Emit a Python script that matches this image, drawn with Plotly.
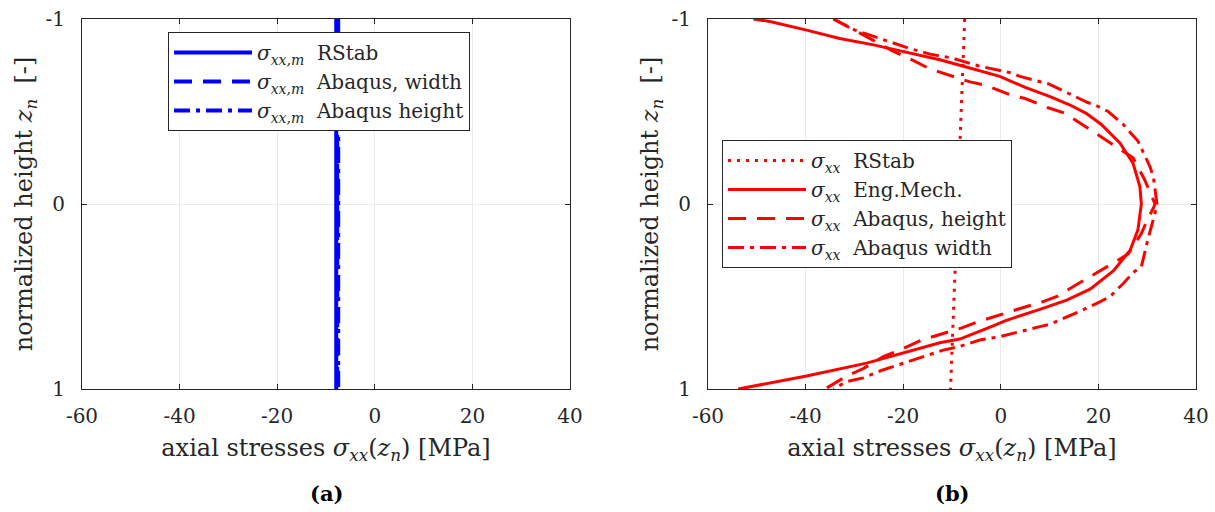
import plotly.graph_objects as go

# ---------------- data ----------------
# (a) mean axial stresses (vertical lines), z_n from -1 to 1
z_ends = [-1.0, 1.0]
a_rstab = [-7.9, -7.9]
a_abq_width = [-7.7, -7.7]
a_abq_height = [-7.5, -7.5]

# (b) axial stress distributions
rstab_x = [-7.4, -10.3]
rstab_z = [-1.0, 1.0]

eng_x = [-50.7, -47.3, -39.8, -33.0, -26.1, -19.3, -12.5, -8.4, -0.2, 5.0, 10.1, 14.2, 17.5,
         20.6, 24.4, 27.1, 28.5, 28.8, 28.1, 26.5, 23.1, 18.3, 13.5, 8.0, 1.0, -2.2, -8.4,
         -12.5, -20.7, -27.5, -39.8, -53.8]
eng_z = [-1.0, -0.986, -0.94, -0.895, -0.86, -0.82, -0.78, -0.75, -0.69, -0.63, -0.58, -0.535,
         -0.49, -0.43, -0.33, -0.22, -0.094, 0.0, 0.14, 0.25, 0.36, 0.46, 0.52, 0.57, 0.63,
         0.665, 0.73, 0.75, 0.81, 0.86, 0.93, 1.0]

abh_x = [-34.3, -29.9, -26.5, -22.4, -19.0, -14.5, -8.4, -6.3, -2.9, 1.9, 5.0, 9.7, 13.2, 17.3,
         20.3, 24.4, 27.1, 29.5, 30.9, 31.6, 31.3, 30.2, 28.8, 26.1, 23.0, 19.0, 15.9, 11.5,
         8.4, 3.3, 0.2, -4.6, -8.0, -12.8, -16.2, -20.7, -24.1, -28.2, -31.6, -36.0]
abh_z = [-1.0, -0.94, -0.89, -0.83, -0.79, -0.73, -0.68, -0.66, -0.64, -0.59, -0.57, -0.52,
         -0.49, -0.42, -0.37, -0.30, -0.25, -0.13, -0.04, 0.0, 0.02, 0.076, 0.16, 0.27, 0.32,
         0.38, 0.43, 0.50, 0.53, 0.57, 0.595, 0.636, 0.67, 0.71, 0.735, 0.79, 0.825, 0.89,
         0.93, 1.0]

abw_x = [-34.3, -29.9, -26.5, -23.1, -18.6, -14.5, -10.1, -6.3, -4.3, 1.9, 3.9, 9.7, 12.1,
         17.7, 19.7, 22.0, 25.1, 26.5, 28.1, 29.9, 30.6, 31.3, 32.0, 31.5, 30.2, 28.8, 27.1,
         25.1, 22.4, 20.2, 18.3, 16.2, 12.1, 10.1, 8.0, 3.9, -0.2, -4.3, -8.4, -11.8, -15.9,
         -20.0, -24.5, -28.2, -31.6, -34.3]
abw_z = [-1.0, -0.94, -0.91, -0.88, -0.84, -0.81, -0.79, -0.76, -0.745, -0.71, -0.69, -0.65,
         -0.62, -0.55, -0.53, -0.50, -0.43, -0.39, -0.34, -0.24, -0.20, -0.14, 0.0, 0.06,
         0.185, 0.34, 0.37, 0.43, 0.50, 0.53, 0.555, 0.58, 0.627, 0.65, 0.663, 0.69, 0.717,
         0.735, 0.77, 0.79, 0.825, 0.86, 0.90, 0.94, 0.96, 1.0]

x_ticks = [-60, -40, -20, 0, 20, 40]
x_tick_labels = ["-60", "-40", "-20", "0", "20", "40"]
y_ticks = [-1, 0, 1]
y_tick_labels = ["-1", "0", "1"]

# ---------------- style ----------------
W, H = 1215, 512
FONT = "DejaVu Serif"
AX = "#262626"
BLUE = "#0000ff"
RED = "#ff0000"
DASH = "18px,11px"
DASHDOT = "16px,6px,4px,6px"
DOT = "3px,6px"

fig = go.Figure()

def add(x, y, name, color, dash, width, xa, ya, legend, group):
    fig.add_trace(go.Scatter(
        x=x, y=y, mode="lines", name=name,
        line=dict(color=color, dash=dash, width=width),
        xaxis=xa, yaxis=ya, legend=legend, legendgroup=group,
    ))

s_m = "<i>σ<sub>xx,m</sub></i>"
s = "<i>σ<sub>xx</sub></i>"
add(a_rstab, z_ends, f"{s_m}  RStab", BLUE, "solid", 4, "x", "y", "legend", "a1")
add(a_abq_width, z_ends, f"{s_m}  Abaqus, width", BLUE, DASH, 4, "x", "y", "legend", "a2")
add(a_abq_height, z_ends, f"{s_m}  Abaqus height", BLUE, DASHDOT, 4, "x", "y", "legend", "a3")

add(rstab_x, rstab_z, f"{s}  RStab", RED, DOT, 3, "x2", "y2", "legend2", "b1")
add(eng_x, eng_z, f"{s}  Eng.Mech.", RED, "solid", 3, "x2", "y2", "legend2", "b2")
add(abh_x, abh_z, f"{s}  Abaqus, height", RED, DASH, 3, "x2", "y2", "legend2", "b3")
add(abw_x, abw_z, f"{s}  Abaqus width", RED, DASHDOT, 3, "x2", "y2", "legend2", "b4")

y_dom = [1 - 389 / H, 1 - 19 / H]
xdom1 = [82 / W, 570 / W]
xdom2 = [708 / W, 1196 / W]

def xaxis(dom, anchor):
    return dict(
        domain=dom, anchor=anchor, range=[-60, 40], tickvals=x_ticks, ticktext=x_tick_labels,
        showgrid=True, gridcolor="#ebebeb", gridwidth=1, zeroline=False,
        showline=True, linecolor=AX, linewidth=1, mirror="ticks",
        ticks="inside", ticklen=5, tickcolor=AX, ticklabelstandoff=9, automargin=False,
        tickfont=dict(family=FONT, size=20, color=AX),
        title=dict(text="axial stresses <i>σ<sub>xx</sub></i>(<i>z<sub>n</sub></i>) [MPa]",
                   font=dict(family=FONT, size=24, color=AX), standoff=12),
    )

def yaxis(anchor):
    return dict(
        domain=y_dom, anchor=anchor, range=[1, -1], tickvals=y_ticks, ticktext=y_tick_labels,
        showgrid=True, gridcolor="#ebebeb", gridwidth=1, zeroline=False,
        showline=True, linecolor=AX, linewidth=1, mirror="ticks",
        ticks="inside", ticklen=5, tickcolor=AX, ticklabelstandoff=12, automargin=False,
        tickfont=dict(family=FONT, size=20, color=AX),
        title=dict(text="normalized height <i>z<sub>n</sub></i>  [-]",
                   font=dict(family=FONT, size=24, color=AX), standoff=6),
    )

legend_common = dict(
    bgcolor="white", bordercolor=AX, borderwidth=1,
    font=dict(family=FONT, size=20, color=AX),
    xanchor="left", yanchor="top", tracegroupgap=0, traceorder="grouped",
    itemwidth=78,
)

fig.update_layout(
    width=W, height=H, margin=dict(l=0, r=0, t=0, b=0, autoexpand=False),
    paper_bgcolor="white", plot_bgcolor="white",
    xaxis=xaxis(xdom1, "y"), yaxis=yaxis("x"),
    xaxis2=xaxis(xdom2, "y2"), yaxis2=yaxis("x2"),
    legend=dict(x=168 / W, y=1 - 32 / H, **legend_common),
    legend2=dict(x=722 / W, y=1 - 140 / H, **legend_common),
    showlegend=True,
    annotations=[
        dict(text="<b>(a)</b>", x=(xdom1[0] + xdom1[1]) / 2, y=1 - 493 / H, xref="paper",
             yref="paper", showarrow=False, font=dict(family=FONT, size=21, color="black"),
             xanchor="center", yanchor="middle"),
        dict(text="<b>(b)</b>", x=(xdom2[0] + xdom2[1]) / 2, y=1 - 493 / H, xref="paper",
             yref="paper", showarrow=False, font=dict(family=FONT, size=21, color="black"),
             xanchor="center", yanchor="middle"),
    ],
)

fig.write_html("out.html")
